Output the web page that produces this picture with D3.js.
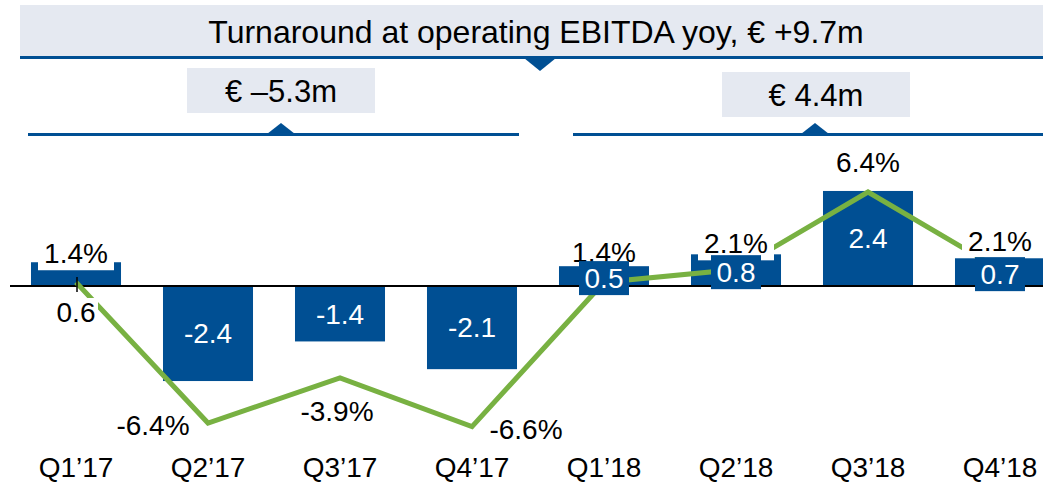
<!DOCTYPE html>
<html>
<head>
<meta charset="utf-8">
<script src="https://cdn.jsdelivr.net/npm/d3@7"></script>
<style>
  body { margin:0; background:#fff; }
  svg { display:block; font-family: "Liberation Sans", Arial, sans-serif; }
</style>
</head>
<body>
<div id="chart"></div>
<script>
// quarterly operating EBITDA (bars, € m) and EBITDA margin (line, %)
var quarters = ["Q1’17","Q2’17","Q3’17","Q4’17","Q1’18","Q2’18","Q3’18","Q4’18"];
var ebitda = [0.6,-2.4,-1.4,-2.1,0.5,0.8,2.4,0.7];
var margin = [1.4,-6.4,-3.9,-6.6,1.4,2.1,6.4,2.1];
var marginLabels = ["1.4%","-6.4%","-3.9%","-6.6%","1.4%","2.1%","6.4%","2.1%"];
var ebitdaLabels = ["0.6","-2.4","-1.4","-2.1","0.5","0.8","2.4","0.7"];
var headline = "Turnaround at operating EBITDA yoy, € +9.7m";
var periodTotals = ["€ –5.3m","€ 4.4m"];

var W = 1043, H = 484;
var blue = "#004f93", green = "#78b142", boxFill = "#e5e9f1";

var svg = d3.select("#chart").append("svg")
    .attr("width",W)
    .attr("height",H);

var x = d3.scaleBand()
    .domain(quarters)
    .range([10,1066])
    .paddingInner(0.318)
    .paddingOuter(0.159);

var yBar = d3.scaleLinear()
    .domain([-3,3])
    .range([286+118.8,286-118.8]);

var yLine = d3.scaleLinear()
    .domain([-7,7])
    .range([307.5+126.35,307.5-126.35]);

var cx = d => x(d) + x.bandwidth()/2;

//headline banner
svg.append("rect")
    .attr("x",20).attr("y",5)
    .attr("width",W-20).attr("height",52)
    .attr("fill",boxFill);
svg.append("text")
    .attr("x",536).attr("y",32)
    .attr("dy","0.35em")
    .attr("text-anchor","middle")
    .style("font-size","32px")
    .text(headline);
svg.append("rect")
    .attr("x",20).attr("y",56)
    .attr("width",W-20).attr("height",3)
    .attr("fill",blue);
svg.append("path")
    .attr("d","M524,58 L556,58 L540,71 Z")
    .attr("fill",blue);

//period brackets
var brackets = [
    {x0:28, x1:519, tri:281, box:[187,68]},
    {x0:573, x1:W, tri:815, box:[722,72]}
];
brackets.forEach(function(b,i){
    svg.append("rect")
        .attr("x",b.box[0]).attr("y",b.box[1])
        .attr("width",188).attr("height",45)
        .attr("fill",boxFill);
    svg.append("text")
        .attr("x",b.box[0]+94).attr("y",b.box[1]+23)
        .attr("dy","0.35em")
        .attr("text-anchor","middle")
        .style("font-size","31px")
        .text(periodTotals[i]);
    svg.append("rect")
        .attr("x",b.x0).attr("y",133)
        .attr("width",b.x1-b.x0).attr("height",3)
        .attr("fill",blue);
    svg.append("path")
        .attr("d","M"+(b.tri-14)+",134 L"+(b.tri+14)+",134 L"+b.tri+",123 Z")
        .attr("fill",blue);
});

//margin labels: placement around the point
var place = ["bar","left","below","right","bar","bar","above","bar"];
var barGap = [9,0,0,0,14,11,0,17];
function labelPos(i){
    var px = cx(quarters[i]), py = yLine(margin[i]);
    if(place[i] == "bar") return [px, yBar(Math.max(ebitda[i],0)) - barGap[i]];
    if(place[i] == "above") return [px, py - 30];
    if(place[i] == "left") return [px - 55, py + 2];
    if(place[i] == "right") return [px + 54, py + 3];
    return [px - 3, py + 33];
}

function drawMarginLabel(g,i,withBg){
    var p = labelPos(i);
    if(withBg){
        g.append("rect")
            .attr("x",p[0]-38).attr("y",p[1]-16)
            .attr("width",76).attr("height",i == 7 ? 32 : 33)
            .attr("fill","#fff");
    }
    g.append("text")
        .attr("x",p[0]).attr("y",p[1])
        .attr("dy","0.35em")
        .attr("text-anchor","middle")
        .style("font-size","28px")
        .text(marginLabels[i]);
}

// Q1'18 label sits behind its bar
var behind = svg.append("g");
drawMarginLabel(behind,4,false);

//bars
svg.append("g")
    .selectAll("rect")
    .data(quarters)
    .enter()
    .append("rect")
    .attr("x",d => x(d))
    .attr("width",x.bandwidth())
    .attr("y",(d,i) => yBar(Math.max(ebitda[i],0)))
    .attr("height",(d,i) => Math.abs(yBar(ebitda[i]) - yBar(0)))
    .attr("fill",blue);

//baseline
svg.append("line")
    .attr("x1",10).attr("x2",W)
    .attr("y1",yBar(0)).attr("y2",yBar(0))
    .attr("stroke","#000")
    .attr("stroke-width",2);

//margin line
svg.append("path")
    .datum(margin)
    .attr("fill","none")
    .attr("stroke",green)
    .attr("stroke-width",5)
    .attr("stroke-linejoin","miter")
    .attr("d",d3.line()
        .x((d,i) => cx(quarters[i]))
        .y(d => yLine(d)));

//margin labels on top
var front = svg.append("g");
margin.forEach(function(m,i){
    if(i != 4) drawMarginLabel(front,i,true);
});

//ebitda value labels
var vals = svg.append("g");
ebitda.forEach(function(v,i){
    var px = cx(quarters[i]);
    if(v < 0 || v > 2){
        vals.append("text")
            .attr("x",px)
            .attr("y",(yBar(v)+yBar(0))/2)
            .attr("dy","0.35em")
            .attr("text-anchor","middle")
            .attr("fill","#fff")
            .style("font-size","28px")
            .text(ebitdaLabels[i]);
    } else if(i == 0){
        //small bar: label below the axis with a leader tick
        vals.append("line")
            .attr("x1",px+1).attr("x2",px+1)
            .attr("y1",277).attr("y2",292)
            .attr("stroke","#000")
            .attr("stroke-width",1.5);
        vals.append("rect")
            .attr("x",px-22).attr("y",yBar(0)+12)
            .attr("width",44).attr("height",28)
            .attr("fill","#fff");
        vals.append("text")
            .attr("x",px).attr("y",yBar(0)+26)
            .attr("dy","0.35em")
            .attr("text-anchor","middle")
            .style("font-size","28px")
            .text(ebitdaLabels[i]);
    } else {
        var ty = (yBar(v)+yBar(0))/2 + 2;
        vals.append("rect")
            .attr("x",px-25).attr("y",ty-17)
            .attr("width",50).attr("height",34)
            .attr("fill",blue);
        vals.append("text")
            .attr("x",px).attr("y",ty)
            .attr("dy","0.35em")
            .attr("text-anchor","middle")
            .attr("fill","#fff")
            .style("font-size","28px")
            .text(ebitdaLabels[i]);
    }
});

//x axis labels
svg.append("g")
    .selectAll("text")
    .data(quarters)
    .enter()
    .append("text")
    .attr("x",d => cx(d))
    .attr("y",467)
    .attr("dy","0.35em")
    .attr("text-anchor","middle")
    .style("font-size","28px")
    .text(d => d);
</script>
</body>
</html>
